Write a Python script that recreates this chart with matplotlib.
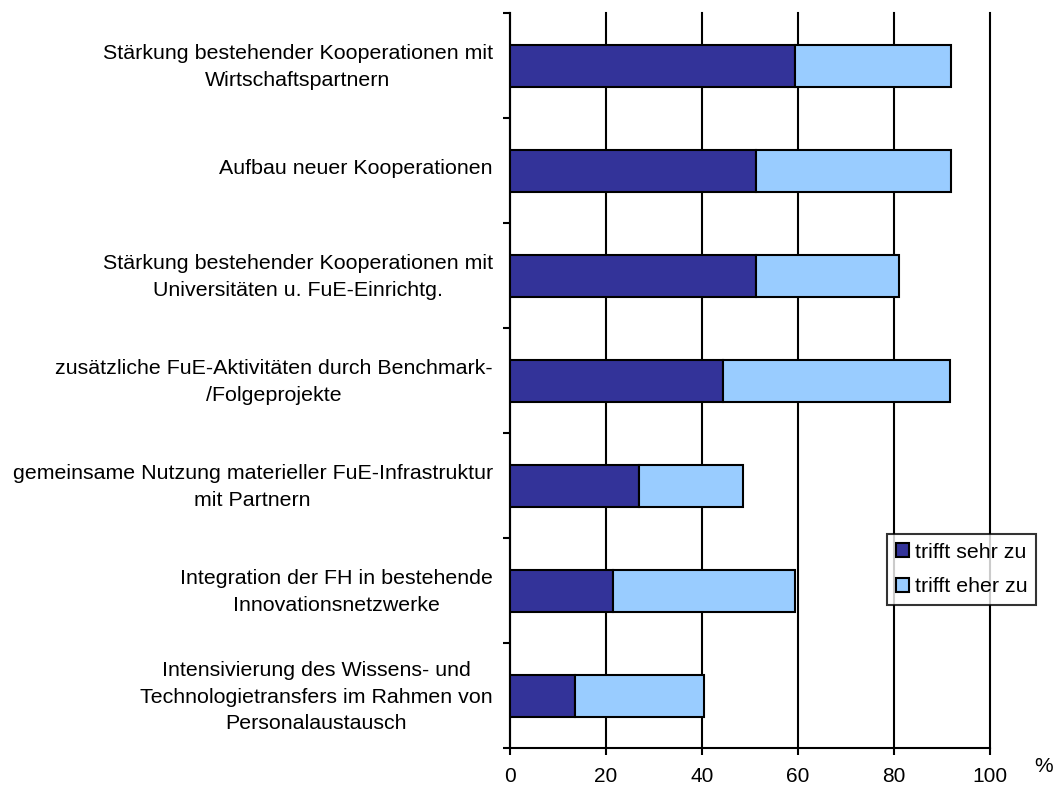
import matplotlib
matplotlib.use("Agg")
import matplotlib.pyplot as plt
from matplotlib.patches import Patch
from matplotlib.transforms import ScaledTranslation

plt.rcParams['font.family'] = ['Liberation Sans', 'DejaVu Sans']

categories = [
    "Stärkung bestehender Kooperationen mit\nWirtschaftspartnern",
    "Aufbau neuer Kooperationen",
    "Stärkung bestehender Kooperationen mit\nUniversitäten u. FuE-Einrichtg.",
    "zusätzliche FuE-Aktivitäten durch Benchmark-\n/Folgeprojekte",
    "gemeinsame Nutzung materieller FuE-Infrastruktur\nmit Partnern",
    "Integration der FH in bestehende\nInnovationsnetzwerke",
    "Intensivierung des Wissens- und\nTechnologietransfers im Rahmen von\nPersonalaustausch",
]
sehr = [59.4, 51.3, 51.3, 44.3, 26.9, 21.5, 13.5]
eher = [32.5, 40.6, 29.7, 47.4, 21.6, 37.8, 27.0]
series_names = ["trifft sehr zu", "trifft eher zu"]
xticks = [0, 20, 40, 60, 80, 100]

c_dark = "#333399"
c_light = "#99CCFF"
fs = 15.4
fs_tick = 15

fig = plt.figure(figsize=(10.55, 7.87), dpi=100)
ax = fig.add_axes([510/1055, 1-748/787, 480/1055, (748-13)/787])

n = len(categories)
ypos = list(range(n))
ax.barh(ypos, sehr, height=0.4, color=c_dark, edgecolor="black", linewidth=1.5, zorder=3)
ax.barh(ypos, eher, left=sehr, height=0.4, color=c_light, edgecolor="black", linewidth=1.5, zorder=3)

ax.set_xlim(0, 100)
ax.set_ylim(n - 0.5, -0.5)
ax.set_xticks(xticks)
ax.set_xticklabels([str(v) for v in xticks], fontsize=fs_tick)
ax.set_yticks(ypos)
ax.set_yticklabels(categories, fontsize=fs, ha="right", multialignment="center", linespacing=1.5)
ax.set_yticks([i - 0.5 for i in range(n + 1)], minor=True)
ax.tick_params(axis="y", which="major", length=0, pad=12.5)
ax.tick_params(axis="y", which="minor", length=5, width=1.5, direction="out")
ax.tick_params(axis="x", length=5, width=1.5, direction="out", pad=9)
for s in ["top", "right"]:
    ax.spines[s].set_visible(False)
for s in ["left", "bottom"]:
    ax.spines[s].set_linewidth(1.5)
ax.xaxis.grid(True, color="black", linewidth=1.5, zorder=1)
ax.set_axisbelow(True)
for gl in ax.get_xgridlines():
    gl.set_clip_on(False)

shift = ScaledTranslation(0, 3/72, fig.dpi_scale_trans)
for lab in ax.get_yticklabels():
    lab.set_transform(lab.get_transform() + shift)

ax.text(1034/1055, 1-767/787, "%", transform=fig.transFigure, fontsize=fs_tick, ha="left", va="center")

handles = [Patch(facecolor=c_dark, edgecolor="black", linewidth=1.5),
           Patch(facecolor=c_light, edgecolor="black", linewidth=1.5)]
leg = fig.legend(handles, series_names, loc="upper left",
                 bbox_to_anchor=(887/1055, 1-534/787), fontsize=fs,
                 frameon=True, fancybox=False, handlelength=0.62, handleheight=0.62,
                 handletextpad=0.28, borderpad=0.4, labelspacing=0.73, borderaxespad=0)
leg.get_frame().set_edgecolor("black")
leg.get_frame().set_linewidth(1.5)

fig.savefig("out.png", dpi=100)
